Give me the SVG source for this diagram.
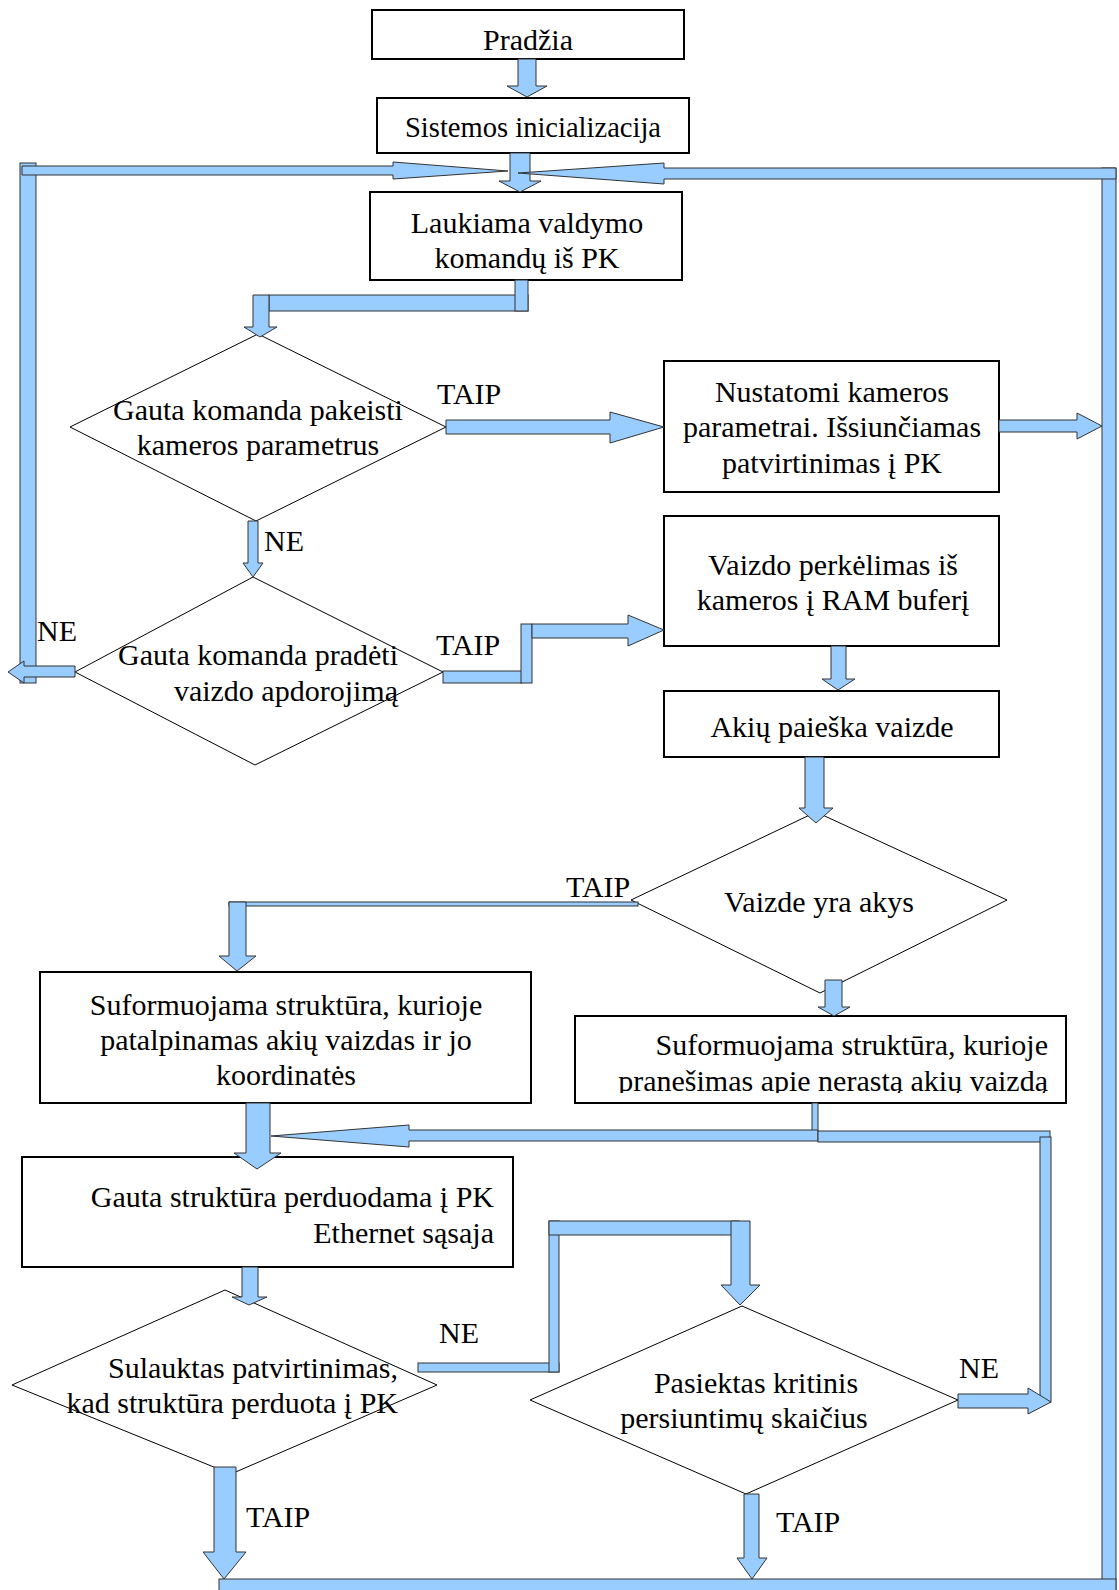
<svg xmlns="http://www.w3.org/2000/svg" width="1119" height="1590" viewBox="0 0 1119 1590">
<style>
  .box{fill:#fff;stroke:#000;stroke-width:2}
  .dia{fill:#fff;stroke:#000;stroke-width:1}
  .t{font-family:"Liberation Serif","Times New Roman",serif;font-size:30px;fill:#000}
  .c{text-anchor:middle}
  .e{text-anchor:end}
  .ar{fill:#99ccff;stroke:#333;stroke-width:1}
</style>
<defs>
  <clipPath id="clipMsg"><rect x="575" y="1016" width="491" height="77"/></clipPath>
</defs>
<rect width="1119" height="1590" fill="#fff"/>

<!-- nodes -->
<g id="start">
  <rect class="box" x="372" y="10" width="312" height="49"/>
  <text class="t c" x="528" y="50">Pradžia</text>
</g>
<g id="init">
  <rect class="box" x="377" y="98" width="312" height="55"/>
  <text class="t c" x="533" y="137" textLength="256" lengthAdjust="spacingAndGlyphs">Sistemos inicializacija</text>
</g>
<g id="wait">
  <rect class="box" x="370" y="192" width="312" height="88"/>
  <text class="t c" x="527" y="233">Laukiama valdymo</text>
  <text class="t c" x="527" y="268">komandų iš PK</text>
</g>
<g id="q-params">
  <polygon class="dia" points="258,334 446,427 256,521 70,427"/>
  <text class="t c" x="258" y="420">Gauta komanda pakeisti</text>
  <text class="t c" x="258" y="455">kameros parametrus</text>
</g>
<g id="set-params">
  <rect class="box" x="664" y="361" width="335" height="131"/>
  <text class="t c" x="832" y="402">Nustatomi kameros</text>
  <text class="t c" x="832" y="437">parametrai. Išsiunčiamas</text>
  <text class="t c" x="832" y="473">patvirtinimas į PK</text>
</g>
<g id="q-start">
  <polygon class="dia" points="253,577 443,672 255,765 75,672"/>
  <text class="t e" x="398" y="665">Gauta komanda pradėti</text>
  <text class="t e" x="398" y="701">vaizdo apdorojimą</text>
</g>
<g id="transfer">
  <rect class="box" x="664" y="516" width="335" height="130"/>
  <text class="t c" x="833" y="575">Vaizdo perkėlimas iš</text>
  <text class="t c" x="833" y="610">kameros į RAM buferį</text>
</g>
<g id="search">
  <rect class="box" x="664" y="691" width="335" height="66"/>
  <text class="t c" x="832" y="737">Akių paieška vaizde</text>
</g>
<g id="q-eyes">
  <polygon class="dia" points="816,812 1007,900 820,993 631,900"/>
  <text class="t c" x="819" y="912">Vaizde yra akys</text>
</g>
<g id="struct-eyes">
  <rect class="box" x="40" y="972" width="491" height="131"/>
  <text class="t c" x="286" y="1015">Suformuojama struktūra, kurioje</text>
  <text class="t c" x="286" y="1050">patalpinamas akių vaizdas ir jo</text>
  <text class="t c" x="286" y="1085">koordinatės</text>
</g>
<g id="struct-none">
  <rect class="box" x="575" y="1016" width="491" height="87"/>
  <g clip-path="url(#clipMsg)">
    <text class="t e" x="1048" y="1055">Suformuojama struktūra, kurioje</text>
    <text class="t e" x="1048" y="1091">pranešimas apie nerastą akių vaizdą</text>
  </g>
</g>
<g id="send">
  <rect class="box" x="22" y="1157" width="491" height="110"/>
  <text class="t e" x="494" y="1207">Gauta struktūra perduodama į PK</text>
  <text class="t e" x="494" y="1243">Ethernet sąsaja</text>
</g>
<g id="q-ack">
  <polygon class="dia" points="225,1290 437,1385 231,1474 12,1385"/>
  <text class="t e" x="398" y="1378">Sulauktas patvirtinimas,</text>
  <text class="t e" x="398" y="1413">kad struktūra perduota į PK</text>
</g>
<g id="q-retries">
  <polygon class="dia" points="742,1306 958,1400 746,1494 530,1400"/>
  <text class="t c" x="756" y="1393">Pasiektas kritinis</text>
  <text class="t c" x="744" y="1428">persiuntimų skaičius</text>
</g>

<!-- connectors -->
<g id="connectors">
  <!-- start -> init -->
  <polygon class="ar" points="518,59 536,59 536,86 547,86 527,97 507,86 518,86"/>
  <!-- init -> wait -->
  <polygon class="ar" points="510,153 530,153 530,181 541,181 520,192 499,181 510,181"/>
  <!-- loop-back rails -->
  <rect class="ar" x="20" y="163" width="16" height="520"/>
  <rect class="ar" x="1102" y="168" width="14" height="1440"/>
  <polygon class="ar" points="22,166 393,166 393,162 508,171 393,179 393,175 22,175"/>
  <polygon class="ar" points="1116,168 664,168 664,163 518,173 664,184 664,179 1116,179"/>
  <!-- wait -> q-params -->
  <rect class="ar" x="269" y="295" width="259" height="16"/>
  <rect class="ar" x="515" y="280" width="13" height="31"/>
  <polygon class="ar" points="253,295 269,295 269,327 277,327 260,337 244,327 253,327"/>
  <!-- q-params TAIP -> set-params -->
  <polygon class="ar" points="446,420 610,420 610,412 664,427 610,443 610,434 446,434"/>
  <!-- set-params -> right rail -->
  <polygon class="ar" points="999,420 1077,420 1077,413 1102,426 1077,439 1077,432 999,432"/>
  <!-- q-params NE -> q-start -->
  <polygon class="ar" points="248,521 258,521 258,563 263,563 253,577 243,563 248,563"/>
  <!-- q-start NE -> left rail -->
  <polygon class="ar" points="75,666 24,666 24,661 8,672 24,683 24,677 75,677"/>
  <!-- q-start TAIP -> transfer -->
  <rect class="ar" x="443" y="671" width="79" height="12"/>
  <rect class="ar" x="521" y="624" width="11" height="59"/>
  <polygon class="ar" points="532,624 628,624 628,615 664,630 628,646 628,638 532,638"/>
  <!-- transfer -> search -->
  <polygon class="ar" points="831,646 846,646 846,679 855,679 838,690 822,679 831,679"/>
  <!-- search -> q-eyes -->
  <polygon class="ar" points="805,757 824,757 824,808 833,808 816,823 799,808 805,808"/>
  <!-- q-eyes TAIP -> struct-eyes -->
  <rect class="ar" x="229" y="902" width="409" height="4"/>
  <polygon class="ar" points="229,902 246,902 246,956 256,956 237,971 219,956 229,956"/>
  <!-- q-eyes -> struct-none -->
  <polygon class="ar" points="825,980 842,980 842,1007 850,1007 834,1016 818,1007 825,1007"/>
  <!-- struct-none -> send, and retry rail -->
  <rect class="ar" x="812" y="1103" width="6" height="34"/>
  <polygon class="ar" points="818,1130 409,1130 409,1125 271,1136 409,1147 409,1141 818,1141"/>
  <rect class="ar" x="818" y="1131" width="232" height="11"/>
  <rect class="ar" x="1040" y="1137" width="11" height="265"/>
  <!-- struct-eyes -> send -->
  <polygon class="ar" points="246,1103 270,1103 270,1153 281,1153 257,1169 234,1153 246,1153"/>
  <!-- send -> q-ack -->
  <polygon class="ar" points="242,1267 258,1267 258,1297 267,1297 249,1305 232,1297 242,1297"/>
  <!-- q-ack NE -> q-retries -->
  <rect class="ar" x="418" y="1363" width="141" height="9"/>
  <rect class="ar" x="549" y="1221" width="10" height="151"/>
  <rect class="ar" x="549" y="1221" width="190" height="14"/>
  <polygon class="ar" points="731,1221 750,1221 750,1285 760,1285 740,1305 721,1285 731,1285"/>
  <!-- q-retries NE -> retry rail -->
  <polygon class="ar" points="958,1394 1028,1394 1028,1388 1051,1402 1028,1414 1028,1408 958,1408"/>
  <!-- TAIP exits -> bottom rail -->
  <polygon class="ar" points="214,1467 236,1467 236,1552 246,1552 224,1579 203,1552 214,1552"/>
  <polygon class="ar" points="744,1494 759,1494 759,1558 767,1558 752,1579 737,1558 744,1558"/>
  <rect class="ar" x="219" y="1579" width="897" height="30"/>
</g>

<!-- branch labels -->
<g id="labels" class="t">
  <text x="437" y="404">TAIP</text>
  <text x="264" y="551">NE</text>
  <text x="436" y="655">TAIP</text>
  <text x="37" y="641">NE</text>
  <text x="566" y="897">TAIP</text>
  <text x="439" y="1343">NE</text>
  <text x="246" y="1527">TAIP</text>
  <text x="959" y="1378">NE</text>
  <text x="776" y="1532">TAIP</text>
</g>
</svg>
